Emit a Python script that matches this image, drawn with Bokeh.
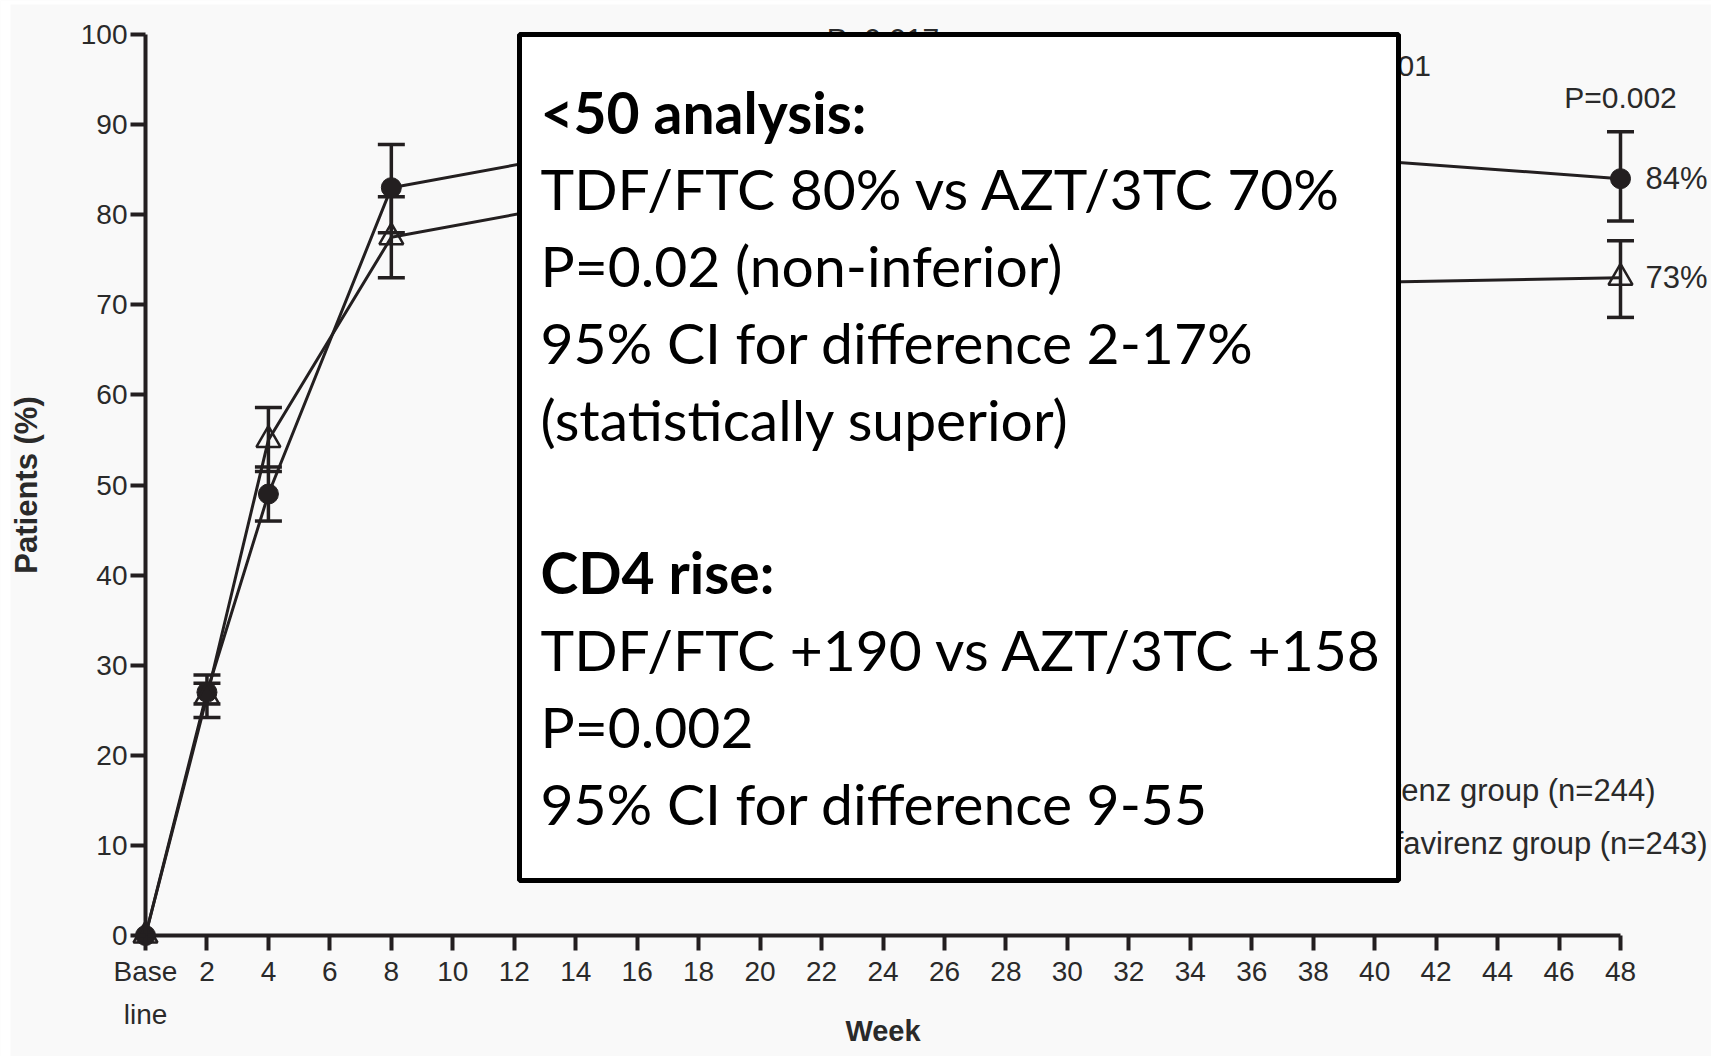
from bokeh.plotting import figure
from bokeh.models import (ColumnDataSource, Whisker, TeeHead, BoxAnnotation, Label,
                          FixedTicker, Range1d)
from bokeh.core.properties import value
from bokeh.embed import file_html
from bokeh.resources import INLINE

# ---- data -------------------------------------------------------------
weeks = [0, 2, 4, 8, 16, 24, 32, 40, 48]
tdf_pct = [0, 27.0, 49.0, 83.0, 88.0, 87.5, 86.5, 86.0, 84.0]
azt_pct = [0, 26.5, 55.0, 77.5, 82.5, 79.0, 75.5, 72.5, 73.0]

ci_weeks = [2, 4, 8, 16, 24, 32, 40, 48]
tdf_lo = [25.7, 46.0, 78.0, 84.0, 83.0, 82.0, 81.5, 79.3]
tdf_hi = [28.9, 52.0, 87.8, 92.0, 92.0, 91.0, 90.5, 89.2]
azt_lo = [24.2, 51.5, 73.0, 78.0, 74.5, 71.0, 68.0, 68.6]
azt_hi = [28.0, 58.6, 82.0, 87.0, 83.5, 80.0, 77.0, 77.1]

pval_weeks = [24, 40, 48]
pval_text = ["P=0.017", "P=0.001", "P=0.002"]
pval_y = [99.6, 96.6, 93.0]

legend_names = ["Tenofovir DF, emtricitabine, and efavirenz group (n=244)",
                "Zidovudine, lamivudine, and efavirenz group (n=243)"]

x_ticks = list(range(0, 49, 2))
y_ticks = list(range(0, 101, 10))

box_lines = [
    ("<50 analysis:", True),
    ("TDF/FTC 80% vs AZT/3TC 70%", False),
    ("P=0.02 (non-inferior)", False),
    ("95% CI for difference 2-17%", False),
    ("(statistically superior)", False),
    ("", False),
    ("CD4 rise:", True),
    ("TDF/FTC +190 vs AZT/3TC +158", False),
    ("P=0.002", False),
    ("95% CI for difference 9-55", False),
]

# ---- layout -----------------------------------------------------------
W, H = 1711, 1056
BG = "#f9f9f9"
INK = "#231f20"
LABEL = "#2a2a2a"
FONT = "Liberation Sans"

# the frame fills the whole canvas; axes sit at the data origin
x0_px, x48_px = 145, 1620
y0_px, y100_px = 935, 34
px_per_week = (x48_px - x0_px) / 48
px_per_pct = (y0_px - y100_px) / 100


def wk(px):
    return (px - x0_px) / px_per_week


def pct(py):
    return (y0_px - py) / px_per_pct


p = figure(width=W, height=H, output_backend="svg", toolbar_location=None,
           x_range=Range1d(wk(0), wk(W)), y_range=Range1d(pct(H), pct(0)),
           min_border=0, min_border_left=0, min_border_right=0,
           min_border_top=0, min_border_bottom=0,
           background_fill_color=BG, border_fill_color=BG, outline_line_color=None)
p.grid.visible = False

for ax in (p.xaxis[0], p.yaxis[0]):
    ax.fixed_location = 0
    ax.axis_line_width = 4
    ax.axis_line_color = INK
    ax.major_tick_line_width = 4
    ax.major_tick_line_color = INK
    ax.major_tick_out = 15
    ax.major_tick_in = 0
    ax.minor_tick_line_color = None
    ax.major_label_text_font = FONT
    ax.major_label_text_font_size = "28px"
    ax.major_label_text_color = LABEL
    ax.axis_label_text_font = FONT
    ax.axis_label_text_font_style = "bold"
    ax.axis_label_text_color = LABEL

xa = p.xaxis[0]
xa.ticker = FixedTicker(ticks=x_ticks)
xa.bounds = (0, 48)
xa.major_label_overrides = {0: "Base\nline"}
xa.major_label_standoff = 5
xa.major_label_text_line_height = 1.4
xa.axis_label = "Week"
xa.axis_label_text_font_size = "29px"
xa.axis_label_standoff = -18

ya = p.yaxis[0]
ya.ticker = FixedTicker(ticks=y_ticks)
ya.bounds = (0, 100)
ya.major_label_standoff = 3
ya.axis_label = "Patients (%)"
ya.axis_label_text_font_size = "31px"
ya.axis_label_standoff = 34

# ---- series -----------------------------------------------------------
src = ColumnDataSource(dict(week=weeks, tdf=tdf_pct, azt=azt_pct))
ci = ColumnDataSource(dict(week=ci_weeks, tlo=tdf_lo, thi=tdf_hi, alo=azt_lo, ahi=azt_hi))

for lo, hi in (("tlo", "thi"), ("alo", "ahi")):
    p.add_layout(Whisker(source=ci, base="week", lower=lo, upper=hi,
                         line_color=INK, line_width=3.5,
                         lower_head=TeeHead(size=27, line_width=3.5, line_color=INK),
                         upper_head=TeeHead(size=27, line_width=3.5, line_color=INK)))

p.line("week", "tdf", source=src, line_color=INK, line_width=3)
p.line("week", "azt", source=src, line_color=INK, line_width=3)
p.scatter("week", "tdf", source=src, marker="circle", size=20,
          fill_color=INK, line_color=INK)
p.scatter("week", "azt", source=src, marker="triangle", size=24,
          fill_color=None, line_color=INK, line_width=2.5)

# p-values above each comparison
p.text(x=pval_weeks, y=pval_y, text=pval_text, text_align="center",
       text_baseline="middle", text_font=value(FONT), text_font_size="30px",
       text_color=LABEL)

# end-of-study values
end_vals = [tdf_pct[-1], azt_pct[-1]]
p.text(x=[weeks[-1]] * 2, y=end_vals, text=[f"{v:.0f}%" for v in end_vals],
       x_offset=25, text_align="left", text_baseline="middle",
       text_font=value(FONT), text_font_size="31px", text_color=LABEL)

# group key
p.text(x=[wk(1655), wk(1707)], y=[pct(790), pct(843)], text=legend_names,
       text_align="right", text_baseline="middle", text_font=value(FONT),
       text_font_size="31px", text_color=LABEL)

# white paper margin along the left and top edges
p.add_layout(BoxAnnotation(left=wk(0), right=wk(10), fill_color="white",
                           fill_alpha=1.0, line_color=None))
p.add_layout(BoxAnnotation(bottom=pct(4), top=pct(0), fill_color="white",
                           fill_alpha=1.0, line_color=None))

# ---- summary box ------------------------------------------------------
p.add_layout(BoxAnnotation(left=wk(519), right=wk(1398), bottom=pct(880), top=pct(34),
                           fill_color="white", fill_alpha=1.0,
                           line_color="black", line_width=5, line_alpha=1.0))

text_x = wk(540)
first_py, step_px = 111, 76.8
for i, (txt, bold) in enumerate(box_lines):
    if not txt:
        continue
    p.add_layout(Label(x=text_x, y=pct(first_py + i * step_px), text=txt,
                       text_baseline="middle", text_align="left",
                       text_font="Lato", text_font_size="57px",
                       text_font_style="bold" if bold else "normal",
                       text_color="black"))

open("out.html", "w").write(file_html(p, INLINE))
